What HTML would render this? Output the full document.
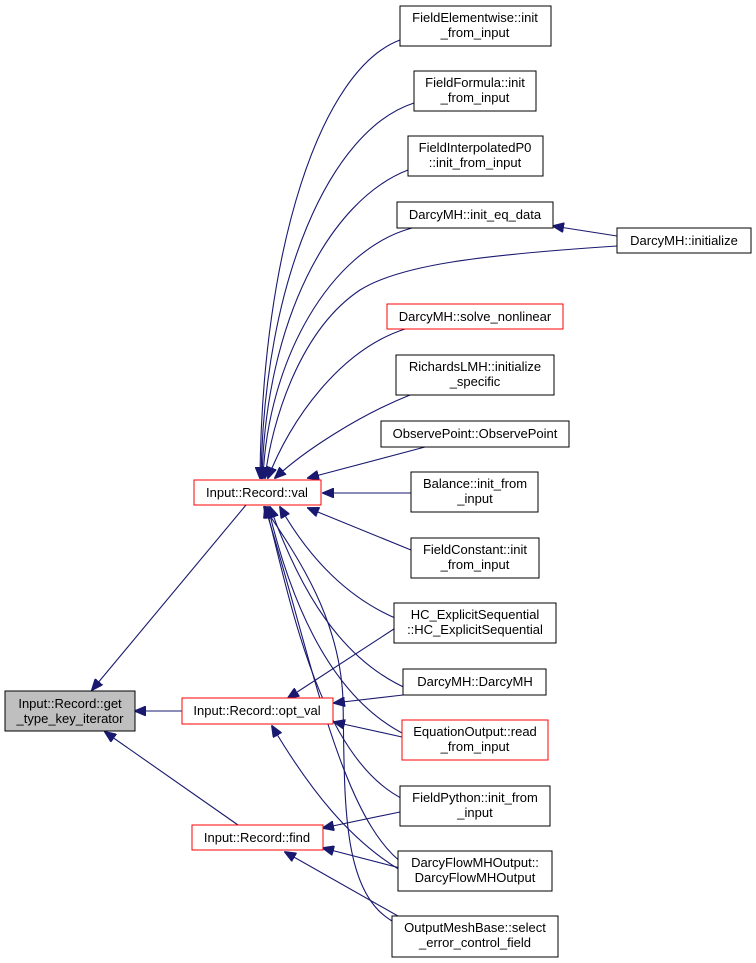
<!DOCTYPE html>
<html><head><meta charset="utf-8"><style>
body{margin:0;background:#fff;}
svg{display:block}
text{font-family:"Liberation Sans",sans-serif;font-size:13px;fill:#000;text-anchor:middle}
.n{fill:#fff;stroke:#000;stroke-width:1}
.r{fill:#fff;stroke:#ff0000;stroke-width:1}
.e{fill:none;stroke:#191970;stroke-width:1.1}
</style></head><body>
<svg width="756" height="963" viewBox="0 0 756 963" xmlns="http://www.w3.org/2000/svg">
<defs><marker id="a" markerWidth="12" markerHeight="10" refX="11" refY="5" orient="auto" markerUnits="userSpaceOnUse"><path d="M0,0 L12,5 L0,10 z" fill="#191970" stroke="#191970"/></marker></defs>
<path class="e" marker-end="url(#a)" d="M400,40 C320,70 262,250 260,478"/>
<path class="e" marker-end="url(#a)" d="M414,103 C330,130 264,280 261,478"/>
<path class="e" marker-end="url(#a)" d="M408,170 C330,200 266,320 262,478"/>
<path class="e" marker-end="url(#a)" d="M412,228 C330,250 268,360 263,478"/>
<path class="e" marker-end="url(#a)" d="M617,246 C480,255 400,265 360,290 C300,330 272,420 265,478"/>
<path class="e" marker-end="url(#a)" d="M405,329 C340,350 290,420 268,478"/>
<path class="e" marker-end="url(#a)" d="M410,395 C360,415 305,450 275,478"/>
<path class="e" marker-end="url(#a)" d="M425,447 L308,478"/>
<path class="e" marker-end="url(#a)" d="M411,493 L323,493"/>
<path class="e" marker-end="url(#a)" d="M411,550 L308,508"/>
<path class="e" marker-end="url(#a)" d="M400,620 C350,600 310,560 280,507"/>
<path class="e" marker-end="url(#a)" d="M410,690 C340,660 300,590 270,507"/>
<path class="e" marker-end="url(#a)" d="M410,737 C330,700 290,600 268,507"/>
<path class="e" marker-end="url(#a)" d="M405,800 C320,760 290,600 266,507"/>
<path class="e" marker-end="url(#a)" d="M405,865 C340,820 310,650 265,507"/>
<path class="e" marker-end="url(#a)" d="M400,925 C340,900 345,800 343,700 C340,620 300,560 264,507"/>
<path class="e" marker-end="url(#a)" d="M400,625 L288,698"/>
<path class="e" marker-end="url(#a)" d="M403,695 L334,703"/>
<path class="e" marker-end="url(#a)" d="M402,737 L334,722"/>
<path class="e" marker-end="url(#a)" d="M400,870 C350,840 310,790 272,726"/>
<path class="e" marker-end="url(#a)" d="M400,812 L323,828"/>
<path class="e" marker-end="url(#a)" d="M400,868 L323,848"/>
<path class="e" marker-end="url(#a)" d="M405,920 L285,852"/>
<path class="e" marker-end="url(#a)" d="M246,505 L92,690"/>
<path class="e" marker-end="url(#a)" d="M182,711 L135,711"/>
<path class="e" marker-end="url(#a)" d="M238,825 L105,732"/>
<path class="e" marker-end="url(#a)" d="M617,236 L553,226"/>
<rect x="5" y="691" width="130" height="40" fill="#bfbfbf" stroke="#000"/>
<text x="70" y="708">Input::Record::get</text><text x="70" y="723">_type_key_iterator</text>
<rect class="r" x="194" y="480" width="127" height="25"/><text x="257" y="497">Input::Record::val</text>
<rect class="r" x="182" y="698" width="151" height="26"/><text x="257" y="715">Input::Record::opt_val</text>
<rect class="r" x="192" y="825" width="131" height="25"/><text x="257" y="842">Input::Record::find</text>
<rect class="n" x="400" y="6" width="151" height="40"/><text x="475" y="22">FieldElementwise::init</text><text x="475" y="37">_from_input</text>
<rect class="n" x="414" y="71" width="122" height="40"/><text x="475" y="87">FieldFormula::init</text><text x="475" y="102">_from_input</text>
<rect class="n" x="408" y="136" width="135" height="40"/><text x="475" y="152">FieldInterpolatedP0</text><text x="475" y="167">::init_from_input</text>
<rect class="n" x="397" y="202" width="156" height="26"/><text x="475" y="219">DarcyMH::init_eq_data</text>
<rect class="n" x="617" y="228" width="134" height="25"/><text x="684" y="245">DarcyMH::initialize</text>
<rect class="r" x="387" y="304" width="176" height="25"/><text x="475" y="321">DarcyMH::solve_nonlinear</text>
<rect class="n" x="396" y="355" width="158" height="40"/><text x="475" y="371">RichardsLMH::initialize</text><text x="475" y="386">_specific</text>
<rect class="n" x="381" y="421" width="188" height="26"/><text x="475" y="438">ObservePoint::ObservePoint</text>
<rect class="n" x="411" y="472" width="127" height="40"/><text x="475" y="488">Balance::init_from</text><text x="475" y="503">_input</text>
<rect class="n" x="411" y="538" width="128" height="40"/><text x="475" y="554">FieldConstant::init</text><text x="475" y="569">_from_input</text>
<rect class="n" x="394" y="603" width="162" height="40"/><text x="475" y="619">HC_ExplicitSequential</text><text x="475" y="634">::HC_ExplicitSequential</text>
<rect class="n" x="403" y="669" width="143" height="26"/><text x="475" y="686">DarcyMH::DarcyMH</text>
<rect class="r" x="402" y="720" width="146" height="40"/><text x="475" y="736">EquationOutput::read</text><text x="475" y="751">_from_input</text>
<rect class="n" x="400" y="786" width="150" height="40"/><text x="475" y="802">FieldPython::init_from</text><text x="475" y="817">_input</text>
<rect class="n" x="398" y="851" width="154" height="40"/><text x="475" y="867">DarcyFlowMHOutput::</text><text x="475" y="882">DarcyFlowMHOutput</text>
<rect class="n" x="392" y="916" width="166" height="41"/><text x="475" y="932">OutputMeshBase::select</text><text x="475" y="947">_error_control_field</text>
</svg>
</body></html>
